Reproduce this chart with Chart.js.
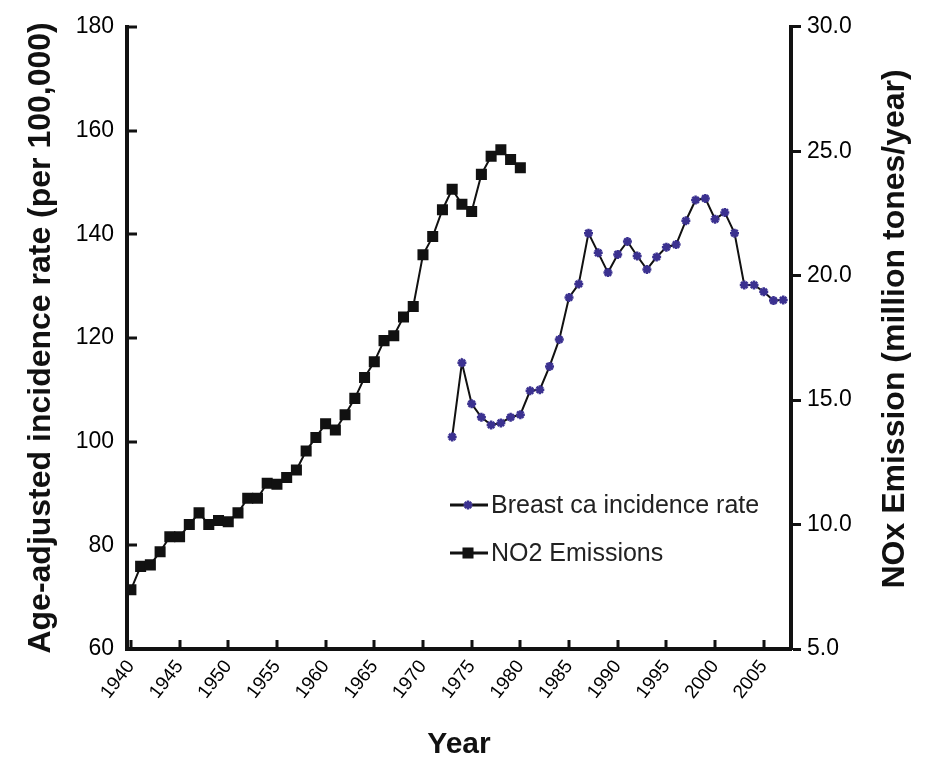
<!DOCTYPE html>
<html>
<head>
<meta charset="utf-8">
<script src="https://cdn.jsdelivr.net/npm/chart.js@4.4.1/dist/chart.umd.min.js"></script>
<style>
  html, body { margin: 0; padding: 0; background: #fff; }
  #wrap { width: 925px; height: 760px; }
</style>
</head>
<body>
<div id="wrap"><canvas id="c" width="925" height="760"></canvas></div>
<script>
// NOx emissions, million tons/year (right axis)
const noxYears = [1940, 1941, 1942, 1943, 1944, 1945, 1946, 1947, 1948, 1949,
  1950, 1951, 1952, 1953, 1954, 1955, 1956, 1957, 1958, 1959,
  1960, 1961, 1962, 1963, 1964, 1965, 1966, 1967, 1968, 1969,
  1970, 1971, 1972, 1973, 1974, 1975, 1976, 1977, 1978, 1979, 1980];
const noxValues = [7.38, 8.32, 8.38, 8.91, 9.51, 9.51, 10.0, 10.47, 10.0, 10.16,
  10.11, 10.47, 11.06, 11.06, 11.66, 11.62, 11.89, 12.19, 12.96, 13.5,
  14.05, 13.8, 14.41, 15.07, 15.91, 16.54, 17.39, 17.59, 18.34, 18.76,
  20.84, 21.57, 22.65, 23.47, 22.87, 22.58, 24.07, 24.8, 25.06, 24.67, 24.34];

// breast cancer incidence, per 100,000 (left axis)
const bcYears = [1973, 1974, 1975, 1976, 1977, 1978, 1979, 1980, 1981, 1982,
  1983, 1984, 1985, 1986, 1987, 1988, 1989, 1990, 1991, 1992,
  1993, 1994, 1995, 1996, 1997, 1998, 1999, 2000, 2001, 2002,
  2003, 2004, 2005, 2006, 2007];
const bcValues = [100.9, 115.2, 107.3, 104.7, 103.2, 103.6, 104.7, 105.2, 109.8, 110.0,
  114.5, 119.7, 127.8, 130.4, 140.2, 136.4, 132.6, 136.1, 138.6, 135.8,
  133.2, 135.6, 137.5, 138.0, 142.6, 146.6, 146.9, 142.9, 144.2, 140.2,
  130.2, 130.2, 128.9, 127.2, 127.3];

const legendLabels = ['Breast ca incidence rate', 'NO2 Emissions'];
const leftTitle = 'Age-adjusted incidence rate (per 100,000)';
const rightTitle = 'NOx Emission (million tones/year)';
const xTitle = 'Year';

const INK = '#111';
const PURPLE = '#3b3190';
const FONT = "'Liberation Sans', Arial, sans-serif";

// inward tick marks on left and bottom axes
const innerTicks = {
  id: 'innerTicks',
  afterDraw(chart) {
    const { ctx, chartArea: a } = chart;
    const x = chart.scales.x, y = chart.scales.y;
    ctx.save();
    ctx.strokeStyle = INK; ctx.lineWidth = 3;
    ctx.beginPath();
    x.ticks.forEach(t => {
      const px = Math.round(x.getPixelForValue(t.value));
      ctx.moveTo(px, a.bottom); ctx.lineTo(px, a.bottom - 9);
    });
    y.ticks.forEach(t => {
      const py = Math.round(y.getPixelForValue(t.value));
      ctx.moveTo(a.left, py); ctx.lineTo(a.left + 10, py);
    });
    ctx.stroke();
    ctx.restore();
  }
};

// right title reads bottom-to-top, plus the in-plot legend
const extras = {
  id: 'extras',
  afterDraw(chart) {
    const { ctx, chartArea: a } = chart;
    ctx.save();
    ctx.fillStyle = INK;
    ctx.font = 'bold 32px ' + FONT;
    ctx.textAlign = 'center'; ctx.textBaseline = 'middle';
    ctx.translate(895, (a.top + a.bottom) / 2 - 9);
    ctx.rotate(-Math.PI / 2);
    ctx.fillText(rightTitle, 0, 0);
    ctx.restore();

    const rows = [505, 553];
    chart.data.datasets.forEach((ds, i) => {
      const ry = rows[i];
      ctx.save();
      ctx.strokeStyle = INK; ctx.lineWidth = 3;
      ctx.beginPath(); ctx.moveTo(450, ry); ctx.lineTo(488, ry); ctx.stroke();
      ctx.fillStyle = ds.pointBackgroundColor;
      ctx.strokeStyle = ds.pointBorderColor;
      ctx.lineWidth = ds.pointBorderWidth;
      Chart.helpers.drawPoint(ctx, { pointStyle: ds.pointStyle, radius: ds.pointRadius, borderWidth: ds.pointBorderWidth, rotation: 0 }, 468, ry);
      ctx.fillStyle = '#222';
      ctx.font = '25px ' + FONT;
      ctx.textAlign = 'left'; ctx.textBaseline = 'middle';
      ctx.fillText(legendLabels[i], 491, ry + 1);
      ctx.restore();
    });
  }
};

new Chart(document.getElementById('c'), {
  type: 'line',
  data: {
    datasets: [
      {
        label: legendLabels[0],
        data: bcYears.map((yr, i) => ({ x: yr, y: bcValues[i] })),
        yAxisID: 'y',
        borderColor: INK, borderWidth: 2,
        pointStyle: 'star', pointRadius: 4.5,
        pointBackgroundColor: PURPLE, pointBorderColor: PURPLE, pointBorderWidth: 2.5,
        tension: 0
      },
      {
        label: legendLabels[1],
        data: noxYears.map((yr, i) => ({ x: yr, y: noxValues[i] })),
        yAxisID: 'y1',
        borderColor: INK, borderWidth: 2,
        pointStyle: 'rect', pointRadius: 7.8,
        pointBackgroundColor: INK, pointBorderColor: INK, pointBorderWidth: 0,
        tension: 0
      }
    ]
  },
  options: {
    responsive: false, animation: false,
    layout: { padding: { top: 20, right: 0, left: 0, bottom: 0 } },
    plugins: { legend: { display: false }, tooltip: { enabled: false } },
    scales: {
      x: {
        type: 'linear', position: 'bottom', min: 1939.6, max: 2007.8,
        afterFit: s => { s.height = 111; },
        grid: { drawOnChartArea: false, drawTicks: false },
        border: { display: true, color: INK, width: 4 },
        ticks: {
          stepSize: 5, includeBounds: false, autoSkip: false,
          minRotation: 52, maxRotation: 52, padding: 7,
          color: '#000', font: { family: FONT, size: 19 },
          callback: v => String(v)
        },
        title: { display: true, text: xTitle, color: INK, padding: { top: 0, bottom: -3 },
          font: { family: FONT, size: 30, weight: 'bold' } }
      },
      y: {
        position: 'left', min: 60, max: 180,
        afterFit: s => { s.width = 127; },
        grid: { drawOnChartArea: false, drawTicks: false },
        border: { display: true, color: INK, width: 4 },
        ticks: { stepSize: 20, padding: 13, color: '#000', font: { family: FONT, size: 23 } },
        title: { display: true, text: leftTitle, color: INK, padding: { top: 22, bottom: 0 },
          font: { family: FONT, size: 32, weight: 'bold' } }
      },
      y1: {
        position: 'right', min: 5, max: 30,
        afterFit: s => { s.width = 134; },
        grid: { drawOnChartArea: false, drawTicks: true, tickLength: 10, tickWidth: 3, color: INK },
        border: { display: true, color: INK, width: 4 },
        ticks: { stepSize: 5, padding: 6, color: '#000', font: { family: FONT, size: 23 },
          callback: v => v.toFixed(1) }
      }
    }
  },
  plugins: [innerTicks, extras]
});
</script>
</body>
</html>
